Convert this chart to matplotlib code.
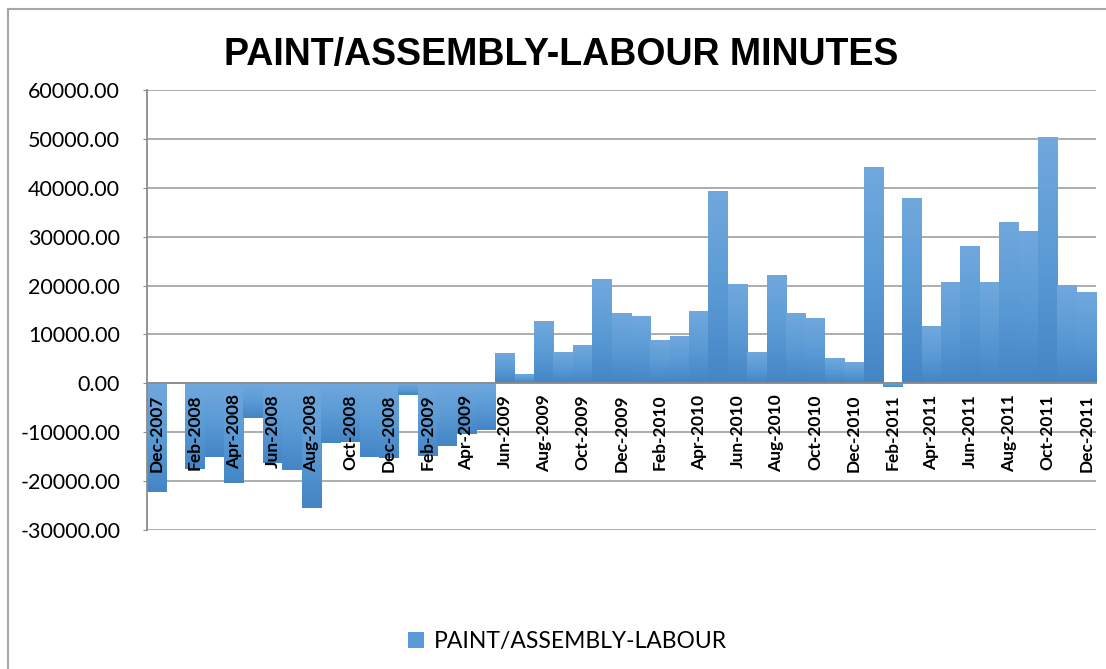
import matplotlib
matplotlib.use("Agg")
import matplotlib.pyplot as plt
import matplotlib.lines as lines
from matplotlib.colors import LinearSegmentedColormap
import numpy as np
import pandas as pd

# monthly values, Dec-2007 .. Dec-2011
months = pd.date_range("2007-12-01", periods=49, freq="MS").strftime("%b-%Y").tolist()
minutes = [
    -22300, 0, -17500, -15000, -20300, -7100, -16400, -17700, -25500, -12300,
    -12100, -15000, -15200, -2300, -14900, -12900, -10400, -9500, 6000, 1800,
    12600, 6300, 7700, 21200, 14300, 13700, 8700, 9600, 14700, 39200,
    20200, 6300, 22000, 14300, 13200, 5100, 4200, 44000, -800, 37800,
    11600, 20500, 28000, 20500, 32900, 30900, 50200, 20000, 18600,
]
series_name = "PAINT/ASSEMBLY-LABOUR"
title = "PAINT/ASSEMBLY-LABOUR MINUTES"
y_ticks = np.arange(-30000, 60001, 10000)

fig = plt.figure(figsize=(11.06, 6.69), dpi=100)
ax = fig.add_axes([0.1325, 0.2078, 0.8585, 0.6577])

x = np.arange(len(minutes))
bars = ax.bar(x, minutes, width=1.0, color="#5B9BD5", zorder=1, label=series_name)

# vertical gradient on each bar (light top, darker bottom)
grad_cmap = LinearSegmentedColormap.from_list("barg", ["#70A8DD", "#5B9BD5", "#4485C6"])
grad = np.linspace(0, 1, 64).reshape(-1, 1)
for r in bars:
    h = r.get_height()
    if h == 0:
        continue
    y0, y1 = sorted([r.get_y(), r.get_y() + h])
    ax.imshow(grad, extent=[r.get_x(), r.get_x() + r.get_width(), y0, y1],
              aspect="auto", cmap=grad_cmap, origin="upper", zorder=1.1)

# gridlines behind bars
for t in y_ticks:
    ax.axhline(t, color="#A6A6A6", lw=1.3, zorder=0.5)

ax.set_xlim(-0.5, len(minutes) - 0.5)
ax.set_ylim(-30000, 60000)
ax.set_axisbelow(False)

ax.spines["top"].set_visible(False)
ax.spines["right"].set_visible(False)
ax.spines["left"].set_color("#8C8C8C")
ax.spines["left"].set_linewidth(1.3)
ax.spines["bottom"].set_position(("data", 0))
ax.spines["bottom"].set_color("#8C8C8C")
ax.spines["bottom"].set_linewidth(1.3)

ax.set_yticks(y_ticks)
ax.set_yticklabels([f"{v:.2f}" for v in y_ticks], fontsize=15.5, family="Lato")
ax.tick_params(axis="y", length=3, color="#8C8C8C", pad=16)

ax.set_xticks(x[::2])
ax.set_xticklabels(months[::2], rotation=90, fontsize=12.5, fontweight="bold", family="Lato")
ax.tick_params(axis="x", length=0, pad=8)

fig.text(0.507, 0.918, title, ha="center", va="center", fontsize=27,
         fontweight="bold", family="Liberation Sans")

fig.legend(handles=[bars], labels=[series_name], loc="center", bbox_to_anchor=(0.513, 0.041),
           frameon=False, prop={"family": "Lato", "size": 16.5}, handlelength=0.7,
           handleheight=0.7, handletextpad=0.4)

# outer chart border (left and top edges visible)
bx, by = 8 / 1106, 1 - 9 / 669
fig.add_artist(lines.Line2D([bx, 1.0], [by, by], color="#A6A6A6", lw=1.5))
fig.add_artist(lines.Line2D([bx, bx], [by, 0.0], color="#A6A6A6", lw=1.5))

fig.savefig("out.png", dpi=100)
